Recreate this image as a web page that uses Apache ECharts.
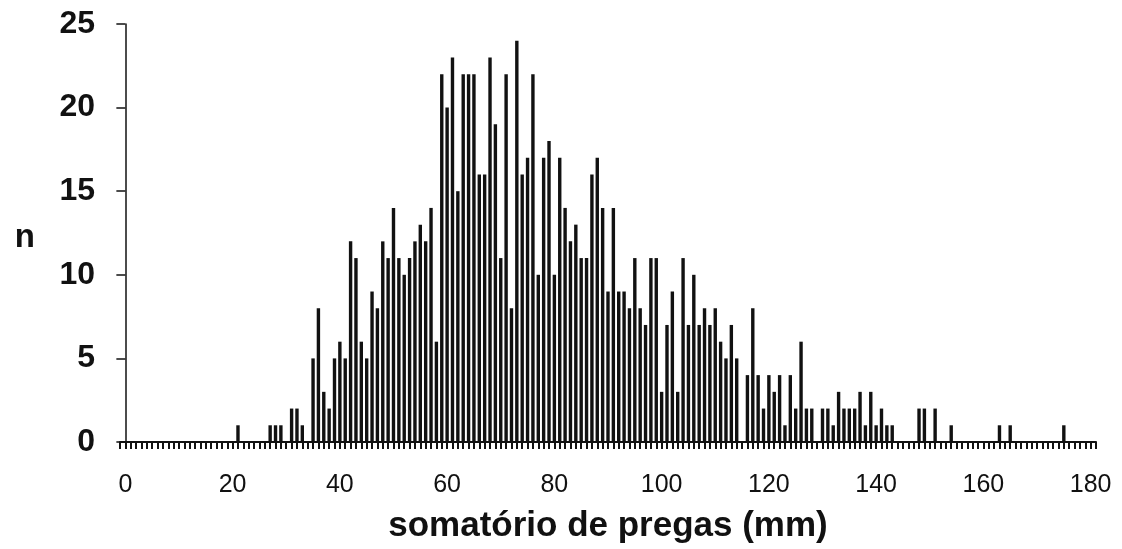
<!DOCTYPE html>
<html>
<head>
<meta charset="utf-8">
<script src="https://cdn.jsdelivr.net/npm/echarts@6/dist/echarts.min.js"></script>
<style>
  html, body { margin: 0; padding: 0; background: #fff; }
  #chart { width: 1122px; height: 549px; }
</style>
</head>
<body>
<div id="chart"></div>
<script>
// somatório de pregas (mm) values that have at least one observation
const sumValues = [
  21, 27, 28, 29, 31, 32, 33,
  35, 36, 37, 38, 39, 40, 41, 42, 43, 44, 45, 46, 47, 48, 49,
  50, 51, 52, 53, 54, 55, 56, 57, 58, 59,
  60, 61, 62, 63, 64, 65, 66, 67, 68, 69,
  70, 71, 72, 73, 74, 75, 76, 77, 78, 79,
  80, 81, 82, 83, 84, 85, 86, 87, 88, 89,
  90, 91, 92, 93, 94, 95, 96, 97, 98, 99,
  100, 101, 102, 103, 104, 105, 106, 107, 108, 109,
  110, 111, 112, 113, 114, 116, 117, 118, 119,
  120, 121, 122, 123, 124, 125, 126, 127, 128,
  130, 131, 132, 133, 134, 135, 136, 137, 138, 139,
  140, 141, 142, 143, 148, 149, 151, 154, 163, 165, 175
];
// n (frequency) for each value above
const counts = [
  1, 1, 1, 1, 2, 2, 1,
  5, 8, 3, 2, 5, 6, 5, 12, 11, 6, 5, 9, 8, 12, 11,
  14, 11, 10, 11, 12, 13, 12, 14, 6, 22,
  20, 23, 15, 22, 22, 22, 16, 16, 23, 19,
  11, 22, 8, 24, 16, 17, 22, 10, 17, 18,
  10, 17, 14, 12, 13, 11, 11, 16, 17, 14,
  9, 14, 9, 9, 8, 11, 8, 7, 11, 11,
  3, 7, 9, 3, 11, 7, 10, 7, 8, 7,
  8, 6, 5, 7, 5, 4, 8, 4, 2,
  4, 3, 4, 1, 4, 2, 6, 2, 2,
  2, 2, 1, 3, 2, 2, 2, 3, 1, 3,
  1, 2, 1, 1, 2, 2, 2, 1, 1, 1, 1
];
const xTickLabels = [0, 20, 40, 60, 80, 100, 120, 140, 160, 180];
const yTickLabels = [0, 5, 10, 15, 20, 25];

const barData = sumValues.map((v, i) => [v, counts[i]]);

const chart = echarts.init(document.getElementById('chart'), null, { renderer: 'canvas' });
chart.setOption({
  animation: false,
  backgroundColor: '#ffffff',
  grid: { left: 120, right: 26, top: 24, bottom: 107, containLabel: false },
  xAxis: {
    type: 'value',
    min: -1,
    max: 181,
    interval: 1,
    name: 'somatório de pregas (mm)',
    nameLocation: 'middle',
    nameGap: 67,
    nameTextStyle: { fontFamily: 'Liberation Sans', fontWeight: 'bold', fontSize: 35, color: '#111' },
    axisLine: { show: true, onZero: false, lineStyle: { color: '#111', width: 2 } },
    axisTick: { show: true, length: 7, lineStyle: { color: '#111', width: 2 } },
    axisLabel: {
      margin: 31,
      fontFamily: 'Liberation Sans',
      fontSize: 25,
      color: '#111',
      formatter: function (v) { return xTickLabels.indexOf(v) >= 0 ? String(v) : ''; }
    },
    splitLine: { show: false }
  },
  yAxis: {
    type: 'value',
    min: yTickLabels[0],
    max: yTickLabels[yTickLabels.length - 1],
    interval: 5,
    name: 'n',
    nameLocation: 'middle',
    nameRotate: 0,
    nameGap: 85,
    nameTextStyle: { fontFamily: 'Liberation Sans', fontWeight: 'bold', fontSize: 33, color: '#111', verticalAlign: 'top', lineHeight: 10 },
    axisLine: { show: true, lineStyle: { color: '#111', width: 1.5 } },
    axisTick: { show: true, length: 9, lineStyle: { color: '#111', width: 1.5 } },
    axisLabel: {
      margin: 25,
      fontFamily: 'Liberation Sans',
      fontWeight: 'bold',
      fontSize: 32,
      color: '#111'
    },
    splitLine: { show: false }
  },
  series: [{
    type: 'bar',
    data: barData,
    barWidth: 3.4,
    itemStyle: { color: '#111' },
    emphasis: { disabled: true }
  }]
});
</script>
</body>
</html>
